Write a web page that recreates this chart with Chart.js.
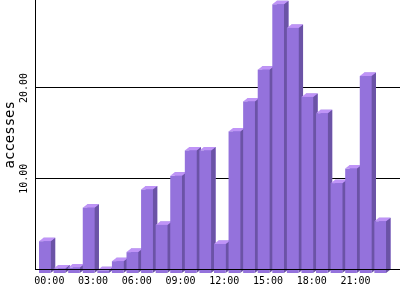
<!DOCTYPE html>
<html>
<head>
<meta charset="utf-8">
<script src="https://cdn.jsdelivr.net/npm/chart.js@4"></script>
<style>
  html, body { margin: 0; padding: 0; background: #fff; }
  canvas { display: block; }
</style>
</head>
<body>
<canvas id="chart" width="400" height="300"></canvas>
<script>
const hours = [
  "00:00", "01:00", "02:00", "03:00", "04:00", "05:00",
  "06:00", "07:00", "08:00", "09:00", "10:00", "11:00",
  "12:00", "13:00", "14:00", "15:00", "16:00", "17:00",
  "18:00", "19:00", "20:00", "21:00", "22:00", "23:00"
];
const accesses = [
  3.5, 0.5, 0.6, 7.2, 0.3, 1.3,
  2.3, 9.2, 5.3, 10.7, 13.5, 13.5,
  3.2, 15.6, 18.9, 22.4, 29.6, 27.0,
  19.4, 17.6, 9.9, 11.5, 21.7, 5.7
];
const xTicks = [0, 3, 6, 9, 12, 15, 18, 21];
const yTicks = [10, 20];

const FRONT = "#9472dc";
const TOP = "#bf94f7";
const SIDE = "#6b53a6";
const DX = 4.5; // depth of the 3d bars
const DY = 3.5;

// draws the front, top and side faces of each bar, the chart.js bar is the back face
const bars3d = {
  id: "bars3d",
  afterDatasetsDraw(chart) {
    const ctx = chart.ctx;
    const meta = chart.getDatasetMeta(0);
    ctx.save();
    meta.data.forEach((bar) => {
      const { x, y, base, width } = bar.getProps(["x", "y", "base", "width"], true);
      const bl = x - width / 2, br = x + width / 2;
      const fl = bl - DX, fr = br - DX;
      const fy = y + DY, fb = base + DY;
      // side
      ctx.fillStyle = SIDE;
      ctx.beginPath();
      ctx.moveTo(fr, fy);
      ctx.lineTo(br, y);
      ctx.lineTo(br, base);
      ctx.lineTo(fr, fb);
      ctx.closePath();
      ctx.fill();
      // top
      ctx.fillStyle = TOP;
      ctx.beginPath();
      ctx.moveTo(fl, fy);
      ctx.lineTo(bl, y);
      ctx.lineTo(br, y);
      ctx.lineTo(fr, fy);
      ctx.closePath();
      ctx.fill();
      // front
      ctx.fillStyle = FRONT;
      ctx.fillRect(fl, fy, fr - fl, fb - fy);
    });
    ctx.restore();
  }
};

new Chart(document.getElementById("chart"), {
  type: "bar",
  data: {
    datasets: [{
      label: "accesses",
      data: accesses.map((v, i) => ({ x: i, y: v })),
      backgroundColor: FRONT,
      borderWidth: 0,
      barPercentage: 0.8,
      categoryPercentage: 1
    }]
  },
  options: {
    responsive: false,
    animation: false,
    layout: { padding: 0 },
    plugins: {
      legend: { display: false },
      tooltip: { enabled: false }
    },
    scales: {
      x: {
        type: "linear",
        offset: false,
        min: -0.95,
        max: 24.05,
        afterBuildTicks: (scale) => {
          scale.ticks = xTicks.map((v) => ({ value: v }));
        },
        afterFit: (scale) => {
          scale.height = 30.5;
          scale.paddingLeft = 0;
          scale.paddingRight = 0;
        },
        grid: { display: false, drawTicks: false },
        border: { display: true, color: "#000", width: 1, z: 1 },
        ticks: {
          autoSkip: false,
          maxRotation: 0,
          minRotation: 0,
          padding: 6,
          color: "#000",
          font: { family: "DejaVu Sans Mono", size: 10 },
          callback: (value) => hours[value]
        }
      },
      y: {
        min: 0,
        max: 29.69,
        afterBuildTicks: (scale) => {
          scale.ticks = yTicks.map((v) => ({ value: v }));
        },
        afterFit: (scale) => {
          scale.width = 35.5;
          scale.paddingTop = 0;
          scale.paddingBottom = 0;
        },
        grid: { color: "#000", lineWidth: 1, drawTicks: false },
        border: { display: true, color: "#000", width: 1 },
        ticks: {
          minRotation: 90,
          maxRotation: 90,
          crossAlign: "center",
          padding: -4,
          color: "#000",
          font: { family: "DejaVu Sans Mono", size: 10 },
          callback: (value) => value.toFixed(2)
        },
        title: {
          display: true,
          text: "accesses",
          color: "#000",
          padding: { top: 1.5, bottom: 0 },
          font: { family: "DejaVu Sans Mono", size: 14 }
        }
      }
    }
  },
  plugins: [bars3d]
});
</script>
</body>
</html>
